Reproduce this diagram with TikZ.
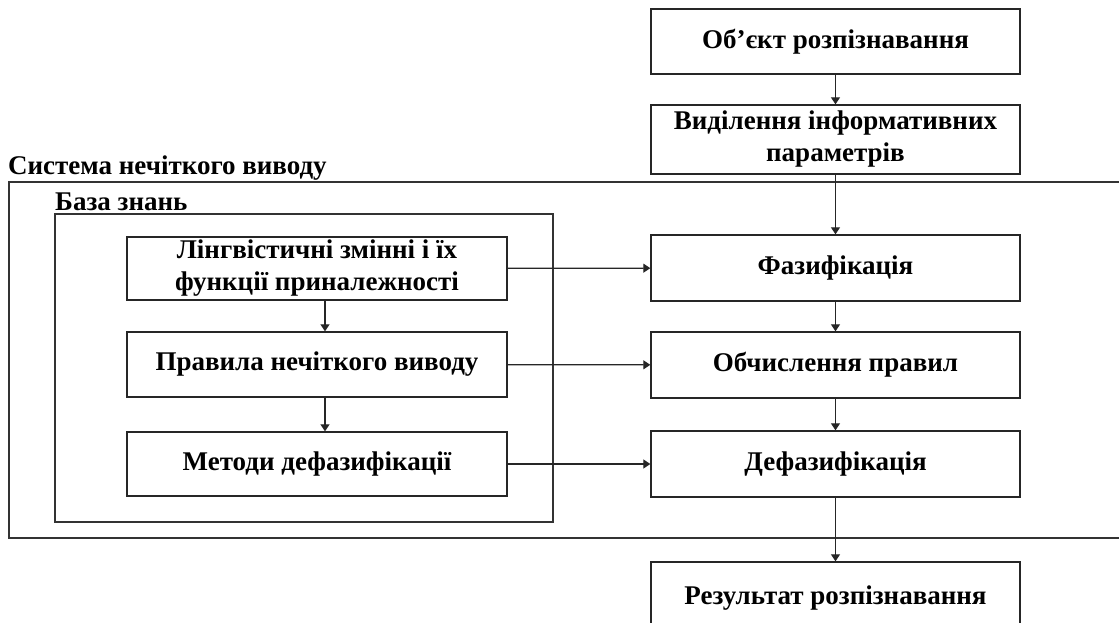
\documentclass[tikz,border=0pt]{standalone}
\usepackage{fontspec}
\setmainfont{Liberation Serif}
\usetikzlibrary{arrows.meta}
\begin{document}
\begin{tikzpicture}[x=1pt,y=-1pt,
  box/.style={draw=black!85, line width=1.4pt, rectangle, align=center, inner sep=0pt,
    font=\fontsize{27}{32}\selectfont\bfseries},
  rbox/.style={box, minimum width=369pt, minimum height=66pt},
  lbox/.style={box, minimum width=380pt, minimum height=64pt},
  frame/.style={draw=black!80, line width=1.4pt},
  lbl/.style={inner sep=0pt, anchor=base west, font=\fontsize{27}{30}\selectfont\bfseries},
  arr/.style={draw=black!85, line width=1.3pt, -{Triangle[length=7pt,width=9pt]}}
]
\useasboundingbox (0,0) rectangle (1119,623);

% outer frame (open at the right edge)
\draw[frame] (1125,182) -- (9,182) -- (9,538) -- (1125,538);
\node[lbl] (sys) at (8,175) {Система нечіткого виводу};

% knowledge base
\draw[frame] (55,214) rectangle (553,522);
\node[lbl] (kb) at (55,210) {База знань};

% right column
\node[rbox, minimum height=65pt] (obj) at (835.5,41.5) {Об’єкт розпізнавання};
\node[rbox, minimum height=69pt] (sel) at (835.5,139.5) {Виділення інформативних\\параметрів};
\node[rbox] (fuz) at (835.5,268) {Фазифікація};
\node[rbox] (calc) at (835.5,365) {Обчислення правил};
\node[rbox] (defuz) at (835.5,464) {Дефазифікація};
\node[rbox, minimum height=72pt] (res) at (835.5,598) {Результат розпізнавання};

% left column
\node[lbox, minimum height=63pt] (ling) at (317,268.5) {Лінгвістичні змінні і їх\\функції приналежності};
\node[lbox, minimum height=65pt] (rules) at (317,364.5) {Правила нечіткого виводу};
\node[lbox] (meth) at (317,464) {Методи дефазифікації};

% connectors
\draw[arr] (obj) -- (sel);
\draw[arr] (sel) -- (fuz);
\draw[arr] (fuz) -- (calc);
\draw[arr] (calc) -- (defuz);
\draw[arr] (defuz) -- (res);
\draw[arr] ([xshift=8pt]ling.south) -- ([xshift=8pt]rules.north);
\draw[arr] ([xshift=8pt]rules.south) -- ([xshift=8pt]meth.north);
\draw[arr] (ling) -- (fuz);
\draw[arr] (rules) -- (calc);
\draw[arr] (meth) -- (defuz);
\end{tikzpicture}
\end{document}
